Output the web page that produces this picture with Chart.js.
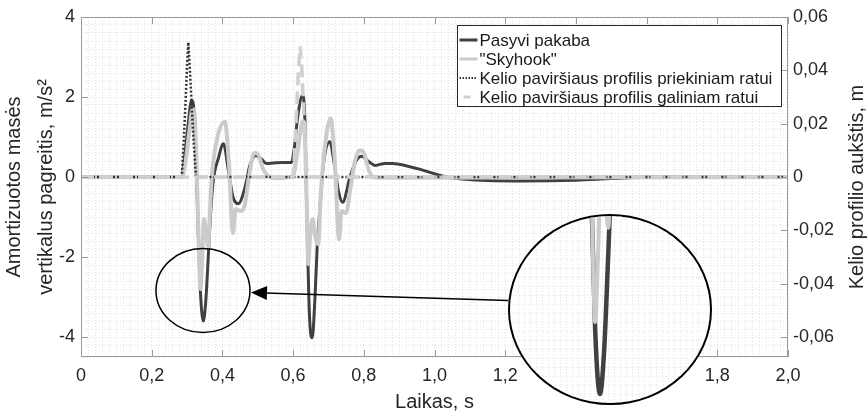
<!DOCTYPE html>
<html>
<head>
<meta charset="utf-8">
<script src="https://cdn.jsdelivr.net/npm/chart.js@4.4.1/dist/chart.umd.min.js"></script>
<style>
html, body { margin: 0; padding: 0; background: #fff; overflow: hidden; }
#wrap { position: relative; width: 867px; height: 412px; }
#main { display: block; }
#zoom { position: absolute; box-sizing: border-box; border: 2px solid #000; border-radius: 50%; overflow: hidden; background: #fff; }
#zoom canvas { display: block; }
</style>
</head>
<body>
<div id="wrap">
  <canvas id="main" width="867" height="412"></canvas>
  <div id="zoom"><canvas id="inset"></canvas></div>
</div>
<script>
// time axis, s
const xTicks = [0, 0.2, 0.4, 0.6, 0.8, 1.0, 1.2, 1.4, 1.6, 1.8, 2.0];
const leftTicks = [-4, -2, 0, 2, 4];
const rightTicks = [-0.06, -0.04, -0.02, 0, 0.02, 0.04, 0.06];

// passive suspension, m/s2
const tPassive = [0, 0.285, 0.293, 0.303, 0.313, 0.318, 0.322, 0.327, 0.332, 0.338,
  0.346, 0.353, 0.36, 0.366, 0.374, 0.388, 0.403, 0.417, 0.43, 0.445,
  0.464, 0.478, 0.495, 0.51, 0.525, 0.545, 0.57, 0.595, 0.603, 0.613,
  0.627, 0.633, 0.638, 0.646, 0.654, 0.662, 0.668, 0.674, 0.686, 0.704,
  0.716, 0.728, 0.74, 0.761, 0.778, 0.794, 0.812, 0.832, 0.86, 0.88,
  0.9, 0.96, 1.0, 1.035, 1.08, 1.15, 1.25, 1.4, 1.5, 1.62, 2.0];
const passive = [0, 0, 0.5, 1.3, 1.92, 1.8, 1.2, 0, -1.5, -2.9,
  -3.6, -3.1, -2.0, -1.0, -0.1, 0.45, 0.83, 0.16, -0.5, -0.67,
  -0.26, 0.3, 0.54, 0.45, 0.34, 0.35, 0.36, 0.36, 0.7, 1.5,
  2.05, 1.5, -0.5, -3.4, -4.02, -3.0, -1.77, -1.0, 0.33, 0.88,
  0.35, -0.34, -0.63, 0, 0.4, 0.52, 0.4, 0.29, 0.34, 0.34,
  0.32, 0.19, 0.08, 0, -0.05, -0.09, -0.1, -0.08, -0.04, 0, 0];

// "Skyhook", m/s2
const tSkyhook = [0, 0.285, 0.295, 0.306, 0.316, 0.321, 0.326, 0.331, 0.338, 0.343,
  0.348, 0.355, 0.36, 0.364, 0.37, 0.384, 0.407, 0.418, 0.43, 0.437,
  0.45, 0.462, 0.475, 0.49, 0.5, 0.515, 0.53, 0.55, 0.6, 0.605,
  0.615, 0.628, 0.634, 0.638, 0.643, 0.648, 0.655, 0.663, 0.671, 0.678,
  0.688, 0.706, 0.718, 0.73, 0.737, 0.75, 0.762, 0.775, 0.789, 0.8,
  0.815, 0.827, 0.85, 2.0];
const skyhook = [0, 0, 0.35, 1.1, 1.7, 1.6, 0.6, -1.0, -2.8, -2.0,
  -1.05, -1.5, -1.75, -1.0, 0, 0.92, 1.38, 0.4, -1.4, -0.8,
  -0.85, -0.75, 0, 0.6, 0.58, 0.2, 0.02, -0.03, 0.02, 0.2,
  0.8, 1.4, 0.9, -0.5, -2.18, -1.5, -1.05, -1.5, -1.68, -0.5,
  0.6, 1.46, 0.4, -1.56, -0.85, -0.9, -0.3, 0.4, 0.67, 0.6,
  0.15, 0, -0.02, 0];

// road profiles, m
const tFront = [0, 0.285, 0.29, 0.295, 0.3, 0.3035, 0.307, 0.312, 0.318, 0.325, 2.0];
const front = [0, 0, 0.012, 0.026, 0.042, 0.0505, 0.043, 0.03, 0.015, 0, 0];
const tRear = [0, 0.6, 0.605, 0.61, 0.615, 0.62, 0.625, 0.63, 0.635, 0.64, 2.0];
const rear = [0, 0, 0.011, 0.025, 0.04, 0.049, 0.04, 0.025, 0.011, 0, 0];

const labels = ['Pasyvi pakaba', '"Skyhook"', 'Kelio paviršiaus profilis priekiniam ratui', 'Kelio paviršiaus profilis galiniam ratui'];

// where the zoom circles sit (in data units)
const smallCircle = { t: 0.345, v: -2.84, rx: 47, ry: 42 };
const bigCircle = { t: 1.4965, v: -3.31, w: 204, h: 191 };

const zip = (xs, ys) => xs.map((x, i) => ({ x: x, y: ys[i] }));
const near = (v, list) => list.some(l => Math.abs(l - v) < 1e-6);
const comma = (v, d) => Math.abs(v) < 1e-9 ? '0' : v.toFixed(d).replace('.', ',');

const DARK = '#404040', LIGHT = '#cbcbcb', GRID = '#e2e2e2', AXIS = '#9a9a9a';

Chart.defaults.font.family = '"Liberation Sans", Arial, sans-serif';
Chart.defaults.color = '#262626';

function lineSets(wDark, wLight) {
  return [
    { label: labels[0], data: zip(tPassive, passive), borderColor: DARK, borderWidth: wDark,
      pointRadius: 0, cubicInterpolationMode: 'monotone', order: 4 },
    { label: labels[1], data: zip(tSkyhook, skyhook), borderColor: LIGHT, borderWidth: wLight,
      pointRadius: 0, cubicInterpolationMode: 'monotone', order: 3 }
  ];
}

const mainSets = lineSets(3, 4).concat([
  { label: labels[2], data: zip(tFront, front), yAxisID: 'y2', borderColor: '#333', borderWidth: 2.5,
    borderDash: [2, 2], pointRadius: 0, tension: 0, order: 2 },
  { label: labels[3], data: zip(tRear, rear), yAxisID: 'y2', borderColor: '#d0d0d0', borderWidth: 3.5,
    borderDash: [13, 6], pointRadius: 0, tension: 0, order: 1 }
]);

const decor = {
  id: 'decor',
  afterDatasetsDraw(chart) {
    const { ctx, chartArea: a, scales: { x, y, y2 } } = chart;
    ctx.save();
    ctx.strokeStyle = AXIS;
    ctx.lineWidth = 1;
    ctx.beginPath();
    xTicks.forEach(v => {
      const p = Math.round(x.getPixelForValue(v)) + 0.5;
      ctx.moveTo(p, a.bottom); ctx.lineTo(p, a.bottom - 7);
      ctx.moveTo(p, a.top); ctx.lineTo(p, a.top + 7);
    });
    leftTicks.forEach(v => {
      const p = Math.round(y.getPixelForValue(v)) + 0.5;
      ctx.moveTo(a.left, p); ctx.lineTo(a.left + 7, p);
    });
    rightTicks.forEach(v => {
      const p = Math.round(y2.getPixelForValue(v)) + 0.5;
      ctx.moveTo(a.right, p); ctx.lineTo(a.right - 7, p);
    });
    ctx.stroke();
    ctx.strokeRect(a.left + 0.5, a.top + 0.5, a.width - 1, a.height - 1);
    ctx.restore();
  },
  afterDraw(chart) {
    const { ctx, chartArea: a, scales: { x, y } } = chart;
    ctx.save();

    // small circle + arrow
    const sx = x.getPixelForValue(smallCircle.t), sy = y.getPixelForValue(smallCircle.v);
    const bx = x.getPixelForValue(bigCircle.t), by = y.getPixelForValue(bigCircle.v);
    ctx.strokeStyle = '#000';
    ctx.fillStyle = '#000';
    ctx.lineWidth = 1.5;
    ctx.beginPath();
    ctx.ellipse(sx, sy, smallCircle.rx, smallCircle.ry, 0, 0, Math.PI * 2);
    ctx.stroke();
    const tip = { x: sx + smallCircle.rx + 1, y: sy + 2 };
    const start = { x: bx - bigCircle.w / 2, y: by - 9 };
    const ang = Math.atan2(start.y - tip.y, start.x - tip.x);
    const c = Math.cos(ang), s = Math.sin(ang);
    ctx.beginPath();
    ctx.moveTo(start.x, start.y);
    ctx.lineTo(tip.x + 14 * c, tip.y + 14 * s);
    ctx.stroke();
    ctx.beginPath();
    ctx.moveTo(tip.x, tip.y);
    ctx.lineTo(tip.x + 16 * c - 7 * s, tip.y + 16 * s + 7 * c);
    ctx.lineTo(tip.x + 16 * c + 7 * s, tip.y + 16 * s - 7 * c);
    ctx.closePath();
    ctx.fill();

    // right axis title (reads bottom to top)
    ctx.fillStyle = '#262626';
    ctx.font = '20px "Liberation Sans", Arial, sans-serif';
    ctx.textAlign = 'center';
    ctx.textBaseline = 'middle';
    ctx.translate(857, (a.top + a.bottom) / 2);
    ctx.rotate(-Math.PI / 2);
    ctx.fillText('Kelio profilio aukštis, m', 0, 0);
    ctx.setTransform(1, 0, 0, 1, 0, 0);

    // legend box
    const lx = a.right - 330.5, ly = a.top + 8.5, lw = 324, lh = 81;
    ctx.fillStyle = '#fff';
    ctx.fillRect(lx, ly, lw, lh);
    ctx.strokeStyle = '#262626';
    ctx.lineWidth = 1;
    ctx.strokeRect(lx, ly, lw, lh);
    ctx.font = '17px "Liberation Sans", Arial, sans-serif';
    ctx.textAlign = 'left';
    chart.data.datasets.forEach((d, i) => {
      const ry = ly + 14.5 + i * 19;
      ctx.strokeStyle = d.borderColor;
      ctx.lineWidth = i === 2 ? 2 : 3;
      ctx.setLineDash(i === 2 ? [1.5, 1.5] : []);
      ctx.beginPath();
      if (i === 3) { ctx.moveTo(lx + 6, ry); ctx.lineTo(lx + 13, ry); }
      else { ctx.moveTo(lx + 2, ry); ctx.lineTo(lx + 20, ry); }
      ctx.stroke();
      ctx.setLineDash([]);
      ctx.fillStyle = '#1a1a1a';
      ctx.fillText(d.label, lx + 22, ry + 1);
    });
    ctx.restore();
  }
};

const chart = new Chart(document.getElementById('main'), {
  type: 'line',
  data: { datasets: mainSets },
  options: {
    responsive: false,
    animation: false,
    layout: { padding: { top: 17 } },
    plugins: { legend: { display: false }, tooltip: { enabled: false } },
    scales: {
      x: {
        type: 'linear', min: 0, max: 2,
        afterFit: sc => { sc.height = 55; },
        grid: { color: GRID, drawTicks: false },
        border: { display: false, dash: [1, 2] },
        ticks: { stepSize: 0.02, autoSkip: false, maxRotation: 0, padding: 8, font: { size: 18 },
          callback: v => near(v, xTicks) ? comma(v, 1) : '' },
        title: { display: true, text: 'Laikas, s', font: { size: 20, lineHeight: 1 }, padding: 0 }
      },
      y: {
        position: 'left', min: -4.5, max: 4,
        afterFit: sc => { sc.width = 81; },
        grid: { color: GRID, drawTicks: false },
        border: { display: false, dash: [1, 2] },
        ticks: { stepSize: 0.2, autoSkip: false, padding: 6, font: { size: 18 },
          callback: v => near(v, leftTicks) ? String(Math.round(v)) : '' },
        title: { display: true, text: ['Amortizuotos masės', 'vertikalus pagreitis, m/s²'],
          font: { size: 20, lineHeight: 1.6 }, padding: { top: -2, bottom: 0 } }
      },
      y2: {
        position: 'right', min: -0.0675, max: 0.06,
        afterFit: sc => { sc.width = 79; },
        afterBuildTicks: sc => { sc.ticks = rightTicks.map(v => ({ value: v })); },
        grid: { drawOnChartArea: false, drawTicks: false },
        border: { display: false },
        ticks: { autoSkip: false, padding: 5, font: { size: 18 },
          callback: v => comma(v, 2) }
      }
    }
  },
  plugins: [decor]
});

// magnified inset, placed over the main chart via its own scales
const zoomBox = document.getElementById('zoom');
const cx = chart.scales.x.getPixelForValue(bigCircle.t);
const cy = chart.scales.y.getPixelForValue(bigCircle.v);
zoomBox.style.left = (cx - bigCircle.w / 2) + 'px';
zoomBox.style.top = (cy - bigCircle.h / 2) + 'px';
zoomBox.style.width = bigCircle.w + 'px';
zoomBox.style.height = bigCircle.h + 'px';
const insetCanvas = document.getElementById('inset');
insetCanvas.width = bigCircle.w - 4;
insetCanvas.height = bigCircle.h - 4;

new Chart(insetCanvas, {
  type: 'line',
  data: { datasets: lineSets(4.5, 4) },
  options: {
    responsive: false,
    animation: false,
    layout: { padding: 0 },
    plugins: { legend: { display: false }, tooltip: { enabled: false } },
    scales: {
      x: {
        type: 'linear', min: 0.196, max: 0.5293,
        afterFit: sc => { sc.height = 0; },
        grid: { color: GRID, drawTicks: false },
        border: { display: false, dash: [1, 2] },
        ticks: { display: false, stepSize: 0.01 }
      },
      y: {
        min: -3.70, max: -1.62,
        afterFit: sc => { sc.width = 0; },
        grid: { color: GRID, drawTicks: false },
        border: { display: false, dash: [1, 2] },
        ticks: { display: false, stepSize: 0.1 }
      }
    }
  }
});
</script>
</body>
</html>
